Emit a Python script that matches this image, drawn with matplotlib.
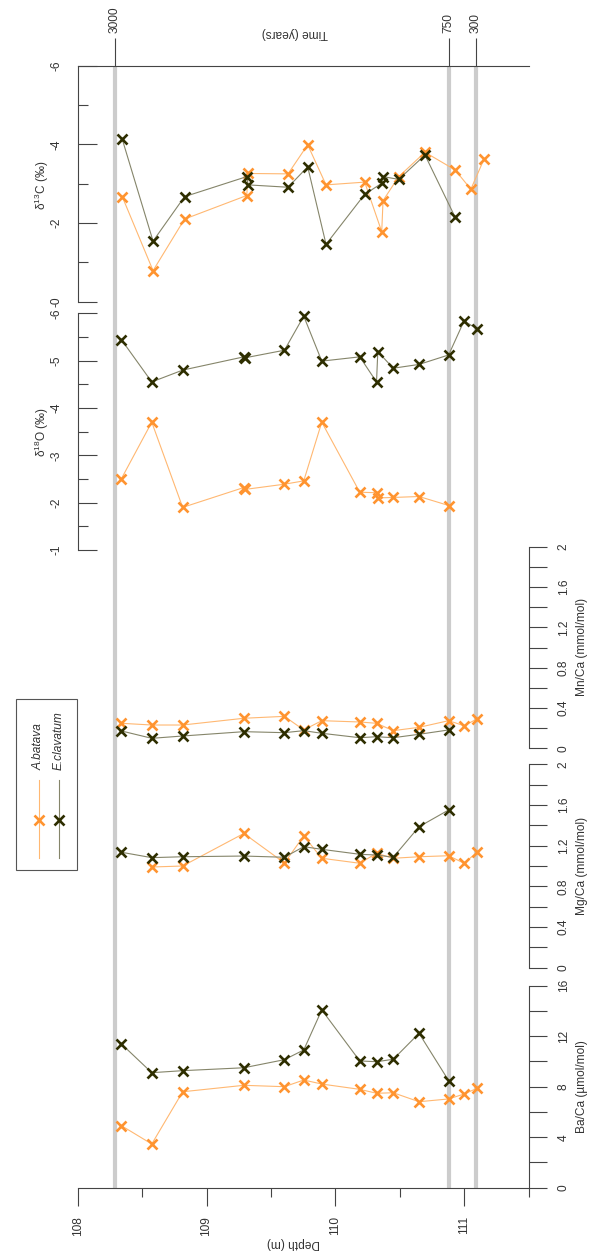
import numpy as np
import matplotlib
matplotlib.use("Agg")
import matplotlib.pyplot as plt
from matplotlib.patches import Rectangle
from matplotlib.lines import Line2D

plt.rcParams['font.family'] = ['Liberation Sans', 'DejaVu Sans']
plt.rcParams['mathtext.fontset'] = 'custom'
plt.rcParams['mathtext.rm'] = 'Liberation Sans'
plt.rcParams['mathtext.default'] = 'regular'

nan = np.nan

# sample depths (m), shared by all proxies
depth = [108.34, 108.575, 108.815, 109.29, 109.30, 109.605, 109.755, 109.895,
         110.19, 110.32, 110.33, 110.45, 110.65, 110.88, 111.00, 111.10]

# age markers
ages = [3000, 750, 300]
age_depth = [108.29, 110.88, 111.09]

ba_ab = [4.91, 3.46, 7.60, 8.11, nan, 8.00, 8.53, 8.21, 7.79, 7.48, nan, 7.52, 6.81, 7.03, 7.42, 7.87]
ba_ec = [11.38, 9.11, 9.27, 9.50, nan, 10.14, 10.91, 14.08, 10.04, 9.98, nan, 10.17, 12.23, 8.48, nan, nan]
mg_ab = [nan, 0.99, 1.00, 1.32, nan, 1.03, 1.295, 1.076, 1.027, 1.125, nan, 1.076, 1.091, 1.101, 1.027, 1.135]
mg_ec = [1.135, 1.082, 1.091, 1.098, nan, 1.086, 1.19, 1.164, 1.115, 1.108, nan, 1.086, 1.386, 1.551, nan, nan]
mn_ab = [0.248, 0.231, 0.231, 0.298, nan, 0.317, 0.182, 0.274, 0.261, 0.248, nan, 0.175, 0.208, 0.274, 0.224, 0.291]
mn_ec = [0.172, 0.099, 0.122, 0.165, nan, 0.155, 0.175, 0.149, 0.105, 0.115, nan, 0.105, 0.139, 0.182, nan, nan]
d18o_ab = [-2.51, -3.70, -1.90, -2.32, -2.28, -2.39, -2.46, -3.70, -2.22, -2.21, -2.10, -2.11, -2.13, -1.94, nan, nan]
d18o_ec = [-5.44, -4.55, -4.80, -5.08, -5.06, -5.22, -5.94, -4.99, -5.08, -4.55, -5.19, -4.84, -4.92, -5.12, -5.84, -5.67]
d13c_ab = [-2.67, -0.79, -2.10, -2.70, -3.26, -3.25, -3.99, -2.97, -3.04, -1.78, -2.57, -3.18, -3.80, -3.35, -2.86, -3.62]
d13c_ec = [-4.13, -1.54, -2.67, -3.18, -2.97, -2.91, -3.43, -1.46, -2.73, -3.01, -3.18, -3.11, -3.73, -2.15, nan, nan]

species = ['A.batava', 'E.clavatum']

W, H = 592, 1253
X0, X1 = 77.7, 528.5
FS = 8.6
AXC = '#444444'
TXC = '#333333'
AB_LINE, AB_MARK = '#ffb872', '#ff9430'
EC_LINE, EC_MARK = '#85856a', '#2e2e00'


def fx(x):
    return x / W


def fy(y):
    return 1 - y / H


def box(x0, y0, x1, y1):
    return [x0 / W, 1 - y1 / H, (x1 - x0) / W, (y1 - y0) / H]


fig = plt.figure(figsize=(W / 100, H / 100), dpi=100)

# background axes: depth axis, time axis and age lines
ax_bg = fig.add_axes(box(X0, 65.7, X1, 1188.3))
ax_bg.set_xlim(108, 111.5)
ax_bg.set_ylim(0, 1)
ax_bg.patch.set_alpha(0)
for s in ['left', 'right']:
    ax_bg.spines[s].set_visible(False)
for s in ['top', 'bottom']:
    ax_bg.spines[s].set_color(AXC)
    ax_bg.spines[s].set_linewidth(0.8)
ax_bg.set_yticks([])
ax_bg.set_xticks([108, 109, 110, 111])
ax_bg.set_xticks([108.5, 109.5, 110.5, 111.5], minor=True)
ax_bg.tick_params(axis='x', which='major', direction='out', length=13, width=0.8,
                  color=AXC, labelsize=FS, labelcolor=TXC, pad=7, labelrotation=90)
ax_bg.tick_params(axis='x', which='minor', direction='out', length=6.5, width=0.8, color=AXC)
for lab in ax_bg.get_xticklabels():
    lab.set_va('top')
for d in age_depth:
    ax_bg.axvline(d, color='#cccccc', lw=3, zorder=0)

ax_t = ax_bg.twiny()
ax_t.set_xlim(ax_bg.get_xlim())
for s in ax_t.spines.values():
    s.set_visible(False)
ax_t.set_xticks(age_depth)
ax_t.set_xticklabels([str(a) for a in ages])
ax_t.tick_params(axis='x', direction='out', length=20, width=0.8, color=AXC,
                 labelsize=FS, labelcolor=TXC, pad=3.5, labelrotation=90)
for lab in ax_t.get_xticklabels():
    lab.set_va('bottom')

fig.text(fx(295), fy(33), 'Time (years)', rotation=180, ha='center', va='center',
         fontsize=FS, color=TXC)
fig.text(fx(293), fy(1243), 'Depth (m)', rotation=180, ha='center', va='center',
         fontsize=FS, color=TXC)


def panel(y0, y1, ylim, xlim=(108, 111.5)):
    ax = fig.add_axes(box(X0, y0, X1, y1))
    ax.set_xlim(xlim)
    ax.set_ylim(ylim)
    ax.patch.set_alpha(0)
    for s in ax.spines.values():
        s.set_visible(False)
    ax.set_xticks([])
    return ax


def right_axis(ax, ticks, labels, minor):
    ax.spines['right'].set_visible(True)
    ax.spines['right'].set_color(AXC)
    ax.spines['right'].set_linewidth(0.8)
    ax.yaxis.tick_right()
    ax.set_yticks(ticks)
    ax.set_yticklabels(labels)
    ax.set_yticks(minor, minor=True)
    ax.tick_params(axis='y', which='both', direction='out', length=13, width=0.8,
                   color=AXC, labelsize=FS, labelcolor=TXC, pad=8, labelrotation=90)
    for lab in ax.get_yticklabels():
        lab.set_va('center')


def left_axis(ax, ticks, labels, minor):
    ax.spines['left'].set_visible(True)
    ax.spines['left'].set_color(AXC)
    ax.spines['left'].set_linewidth(0.8)
    ax.set_yticks(ticks)
    ax.set_yticklabels(labels)
    ax.set_yticks(minor, minor=True)
    ax.tick_params(axis='y', which='major', direction='in', length=13.7, width=0.8,
                   color=AXC, labelsize=FS, labelcolor=TXC, pad=11, labelrotation=90)
    ax.tick_params(axis='y', which='minor', direction='in', length=7, width=0.8, color=AXC)
    for lab in ax.get_yticklabels():
        lab.set_va('center')


def draw(ax, vals, line_c, mark_c):
    x = np.array(depth)
    y = np.array(vals, dtype=float)
    m = ~np.isnan(y)
    ax.plot(x[m], y[m], color=line_c, lw=0.8, marker='x', ms=7, mew=1.9,
            mec=mark_c, clip_on=False)


def both(ax, ab, ec):
    draw(ax, ab, AB_LINE, AB_MARK)
    draw(ax, ec, EC_LINE, EC_MARK)


# Ba/Ca
ax_ba = panel(985.7, 1187.7, (0, 16))
right_axis(ax_ba, [0, 4, 8, 12, 16], ['0', '4', '8', '12', '16'], [2, 6, 10, 14])
both(ax_ba, ba_ab, ba_ec)
fig.text(fx(582), fy(1087), 'Ba/Ca (µmol/mol)', rotation=90, ha='center', va='center',
         fontsize=FS, color=TXC)

# Mg/Ca
ax_mg = panel(764.3, 967.7, (0, 2))
right_axis(ax_mg, [0, 0.4, 0.8, 1.2, 1.6, 2], ['0', '0.4', '0.8', '1.2', '1.6', '2'],
           [0.2, 0.6, 1.0, 1.4, 1.8])
both(ax_mg, mg_ab, mg_ec)
fig.text(fx(582), fy(866), 'Mg/Ca (mmol/mol)', rotation=90, ha='center', va='center',
         fontsize=FS, color=TXC)

# Mn/Ca
ax_mn = panel(546.7, 748.3, (0, 2))
right_axis(ax_mn, [0, 0.4, 0.8, 1.2, 1.6, 2], ['0', '0.4', '0.8', '1.2', '1.6', '2'],
           [0.2, 0.6, 1.0, 1.4, 1.8])
both(ax_mn, mn_ab, mn_ec)
fig.text(fx(582), fy(647), 'Mn/Ca (mmol/mol)', rotation=90, ha='center', va='center',
         fontsize=FS, color=TXC)

# d18O
ax_o = panel(313.3, 550, (-1, -6))
left_axis(ax_o, [-6, -5, -4, -3, -2, -1], ['-6', '-5', '-4', '-3', '-2', '-1'],
          [-5.5, -4.5, -3.5, -2.5, -1.5])
both(ax_o, d18o_ab, d18o_ec)
fig.text(fx(42), fy(432), r'δ$^{18}$O (‰)', rotation=90, ha='center', va='center',
         fontsize=FS, color=TXC)

# d13C (panel registered on a slightly different depth scale)
ax_c = panel(65.7, 301.7, (0, -6), xlim=(108.0, 111.44))
left_axis(ax_c, [-6, -4, -2, 0], ['-6', '-4', '-2', '-0'], [-5, -3, -1])
both(ax_c, d13c_ab, d13c_ec)
fig.text(fx(42), fy(185), r'δ$^{13}$C (‰)', rotation=90, ha='center', va='center',
         fontsize=FS, color=TXC)

# legend, drawn rotated like the rest of the figure
fig.add_artist(Rectangle((fx(16), fy(870)), (77 - 16) / W, (870 - 699) / H,
                         transform=fig.transFigure, fill=False, ec='#555555', lw=0.8))
for xp, name, lc, mc in [(39, species[0], AB_LINE, AB_MARK), (59, species[1], EC_LINE, EC_MARK)]:
    fig.add_artist(Line2D([fx(xp), fx(xp)], [fy(780), fy(858)], transform=fig.transFigure,
                          color=lc, lw=0.8))
    fig.add_artist(Line2D([fx(xp)], [fy(820)], transform=fig.transFigure, marker='x',
                          ms=7, mew=1.9, color=mc, lw=0))
    fig.text(fx(xp), fy(770), name, rotation=90, ha='center', va='bottom',
             fontsize=FS, style='italic', color=TXC)

fig.savefig('out.png', dpi=100)
